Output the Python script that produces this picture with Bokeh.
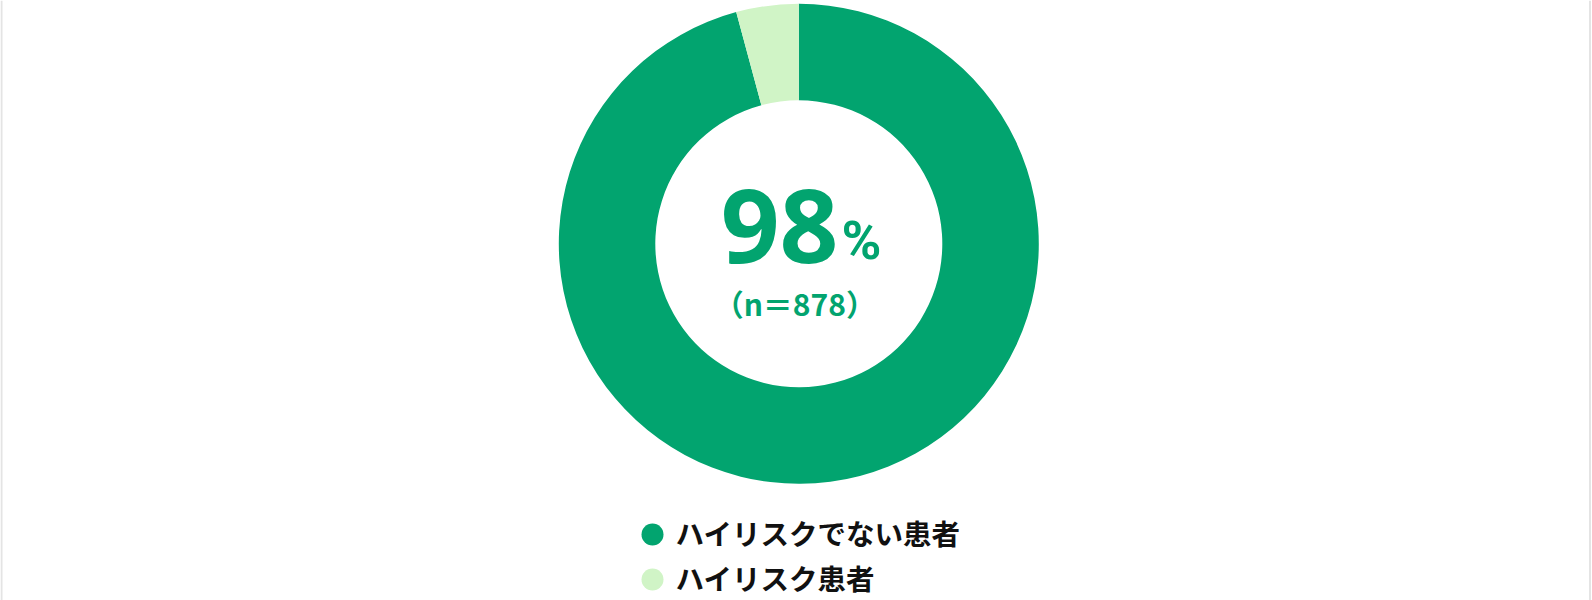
import math
from bokeh.plotting import figure
from bokeh.models import Range1d, ColumnDataSource, Span
from bokeh.core.properties import value
from bokeh.embed import file_html
from bokeh.resources import INLINE

# ---- data ----
categories = ["ハイリスクでない患者", "ハイリスク患者"]
shares = [95.8, 4.2]
colors = ["#02A46F", "#D0F4C6"]
headline_pct = "98"
sample_n = 878

FONT_JP = "Noto Sans CJK JP"
FONT_NUM = "Open Sans"
FONT_PCT = "Roboto"
W, H = 1592, 600

def sy(y):  # screen y -> data y
    return H - y

p = figure(width=W, height=H, output_backend="svg", toolbar_location=None,
           x_range=Range1d(0, W), y_range=Range1d(0, H),
           min_border=0, background_fill_color="white", border_fill_color="white")
p.axis.visible = False
p.grid.visible = False
p.outline_line_color = None

# card borders
p.add_layout(Span(location=1, dimension="height", line_color="#E4E4E4", line_width=2))
p.add_layout(Span(location=W - 2.5, dimension="height", line_color="#E4E4E4", line_width=2))

# donut geometry
cx, cy = 798.3, 243.3
r_out, r_in = 240, 143.5

total = sum(shares)
starts, ends = [], []
a = math.pi / 2
for s in shares:
    starts.append(a)
    a -= s / total * 2 * math.pi
    ends.append(a)

src = ColumnDataSource(dict(start=starts, end=ends, color=colors, cat=categories))
p.annular_wedge(x=cx, y=sy(cy), inner_radius=r_in, outer_radius=r_out,
                start_angle="start", end_angle="end", direction="clock",
                fill_color="color", line_color=None, source=src)

green = colors[0]
# center labels
p.text(x=[838], y=[sy(225)], text=[headline_pct], text_font=value(FONT_NUM),
       text_font_style="bold", text_font_size="103px", text_color=green,
       text_align="right", text_baseline="alphabetic")
p.text(x=[841], y=[sy(240)], text=["%"], text_font=value(FONT_PCT),
       text_font_style="bold", text_font_size="54px", text_color=green,
       text_align="left", text_baseline="alphabetic")
p.text(x=[cx - 4], y=[sy(302)], text=[f"（n＝{sample_n}）"], text_font=value(FONT_JP),
       text_font_style="bold", text_font_size="30px", text_color=green,
       text_align="center", text_baseline="alphabetic")

# legend
leg = ColumnDataSource(dict(x=[652] * 2, tx=[675] * 2,
                            my=[sy(534), sy(579)], ty=[sy(532), sy(577)],
                            color=colors, cat=categories))
p.circle(x="x", y="my", radius=11, fill_color="color", line_color=None, source=leg)
p.text(x="tx", y="ty", text="cat", text_font=value(FONT_JP), text_font_style="bold",
       text_font_size="28.5px", text_color="#111111", text_align="left",
       text_baseline="middle", source=leg)

open("out.html", "w").write(file_html(p, INLINE))
